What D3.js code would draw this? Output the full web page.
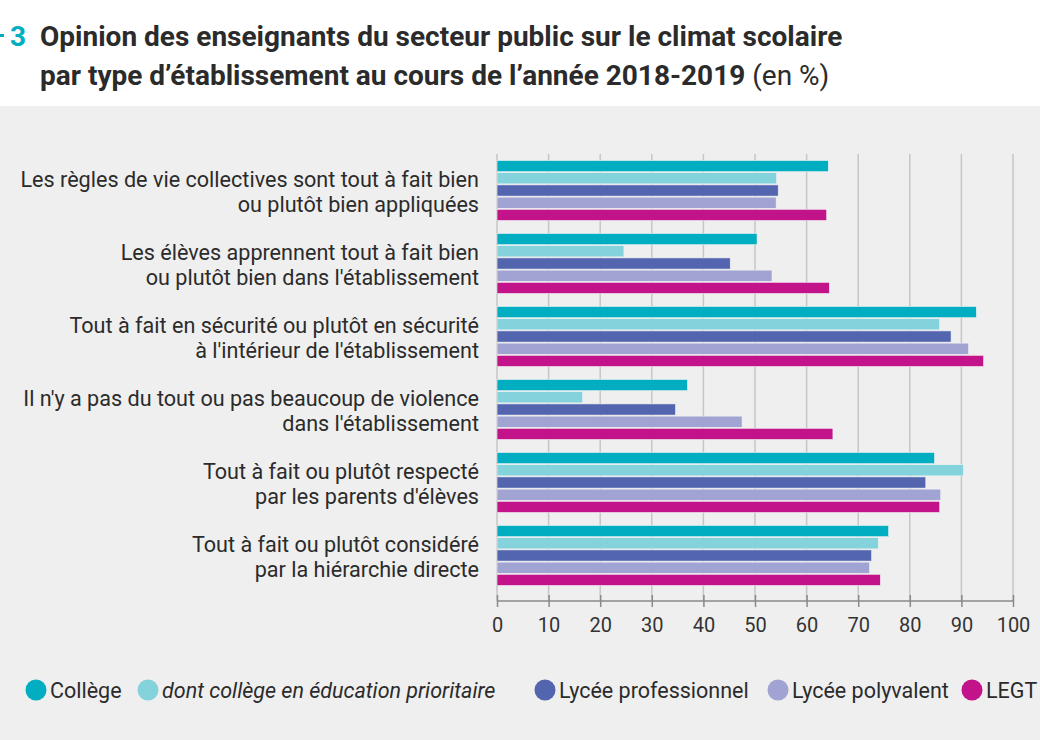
<!DOCTYPE html>
<html>
<head>
<meta charset="utf-8">
<script src="https://cdn.jsdelivr.net/npm/d3@7"></script>
<style>
  body { margin: 0; background: #fff; }
  svg { display: block; font-family: Roboto, "Noto Sans", sans-serif; }
</style>
</head>
<body>
<div id="chart"></div>
<script>
// Data
var categories = [
  ["Les règles de vie collectives sont tout à fait bien", "ou plutôt bien appliquées"],
  ["Les élèves apprennent tout à fait bien", "ou plutôt bien dans l'établissement"],
  ["Tout à fait en sécurité ou plutôt en sécurité", "à l'intérieur de l'établissement"],
  ["Il n'y a pas du tout ou pas beaucoup de violence", "dans l'établissement"],
  ["Tout à fait ou plutôt respecté", "par les parents d'élèves"],
  ["Tout à fait ou plutôt considéré", "par la hiérarchie directe"]
];
var seriesNames = ["Collège", "dont collège en éducation prioritaire", "Lycée professionnel", "Lycée polyvalent", "LEGT"];
var college = [64.2, 50.4, 92.9, 36.9, 84.8, 75.9];
var collegeEP = [54.2, 24.6, 85.8, 16.6, 90.4, 73.9];
var lyceePro = [54.5, 45.2, 88.0, 34.6, 83.1, 72.6];
var lyceePoly = [54.1, 53.3, 91.4, 47.5, 86.0, 72.2];
var legt = [63.9, 64.4, 94.3, 65.1, 85.8, 74.3];
var xTicks = [0, 10, 20, 30, 40, 50, 60, 70, 80, 90, 100];

var series = [college, collegeEP, lyceePro, lyceePoly, legt];
var colors = ["#00adc1", "#83d2dc", "#5465b0", "#a1a4d3", "#c2138b"];

var width = 1040;
var height = 740;

var svg = d3.select("#chart")
  .append("svg")
  .attr("width", width)
  .attr("height", height);

// background panel
svg.append("rect")
  .attr("x", 0).attr("y", 106)
  .attr("width", width).attr("height", height - 106)
  .attr("fill", "#efefef");

// title
svg.append("rect")
  .attr("x", 0).attr("y", 34)
  .attr("width", 4).attr("height", 3)
  .attr("fill", "#00adc1");
svg.append("text")
  .attr("x", 10).attr("y", 46)
  .attr("font-size", 28).attr("font-weight", "bold")
  .attr("fill", "#00adc1")
  .text("3");
svg.append("text")
  .attr("x", 40).attr("y", 46)
  .attr("font-size", 28).attr("font-weight", "bold")
  .attr("fill", "#2b2b2b")
  .text("Opinion des enseignants du secteur public sur le climat scolaire");
var t2 = svg.append("text")
  .attr("x", 40).attr("y", 85)
  .attr("font-size", 28).attr("fill", "#2b2b2b");
t2.append("tspan").attr("font-weight", "bold")
  .text("par type d’établissement au cours de l’année 2018-2019");
t2.append("tspan").text(" (en %)");

// scales
var x = d3.scaleLinear()
  .domain([0, 100])
  .range([497, 1013]);

var y0 = d3.scaleBand()
  .domain(d3.range(categories.length))
  .range([154, 592])
  .paddingInner(0.164)
  .paddingOuter(0.082);

var y1 = d3.scaleBand()
  .domain(d3.range(series.length))
  .range([0, y0.bandwidth()]);

var axisY = 601;

// gridlines
svg.append("g")
  .selectAll("line")
  .data(xTicks)
  .enter()
  .append("line")
  .attr("x1", d => x(d)).attr("x2", d => x(d))
  .attr("y1", 154).attr("y2", axisY)
  .attr("stroke", "#c6c6c6")
  .attr("stroke-width", 1.5);

// bars
var groups = svg.selectAll("g.grp")
  .data(series)
  .enter()
  .append("g")
  .attr("class", "grp")
  .attr("fill", (d, i) => colors[i]);

groups.each(function (vals, si) {
  d3.select(this).selectAll("rect")
    .data(vals)
    .enter()
    .append("rect")
    .attr("x", x(0))
    .attr("y", (d, i) => y0(i) + y1(si) + 0.5)
    .attr("width", d => x(d) - x(0))
    .attr("height", y1.bandwidth() - 1)
    .attr("stroke", "#f4f4f4")
    .attr("stroke-width", 0.6);
});

// x axis
var xAxis = svg.append("g")
  .attr("transform", "translate(0," + axisY + ")")
  .call(d3.axisBottom(x).tickValues(xTicks).tickSize(8).tickPadding(9));
xAxis.select(".domain").attr("stroke", "#8a8a8a").attr("stroke-width", 1.5)
  .attr("d", "M" + x(0) + ",0H" + x(100));
xAxis.selectAll(".tick line").attr("stroke", "#8a8a8a").attr("stroke-width", 1.5)
  .attr("y1", -6).attr("y2", 6);
xAxis.selectAll(".tick text")
  .attr("font-family", "Roboto, sans-serif")
  .attr("font-size", 20)
  .attr("fill", "#333");

// category labels
var labels = svg.append("g")
  .selectAll("text")
  .data(categories)
  .enter()
  .append("text")
  .attr("text-anchor", "end")
  .attr("font-size", 21.6)
  .attr("fill", "#2b2b2b")
  .attr("y", (d, i) => y0(i) + y0.bandwidth() / 2 - 4);
labels.selectAll("tspan")
  .data(d => d)
  .enter()
  .append("tspan")
  .attr("x", 479)
  .attr("dy", (d, j) => j === 0 ? 0 : 25)
  .text(d => d);

// legend
var legendX = [36, 148, 545, 778, 972];
var legend = svg.append("g")
  .selectAll("g")
  .data(seriesNames)
  .enter()
  .append("g")
  .attr("transform", (d, i) => "translate(" + legendX[i] + ",690)");
legend.append("circle")
  .attr("r", 10.5)
  .attr("fill", (d, i) => colors[i]);
legend.append("text")
  .attr("x", 14)
  .attr("y", 7.5)
  .attr("font-size", 21.5)
  .attr("fill", "#2b2b2b")
  .attr("font-style", (d, i) => i === 1 ? "italic" : "normal")
  .text(d => d);
</script>
</body>
</html>
